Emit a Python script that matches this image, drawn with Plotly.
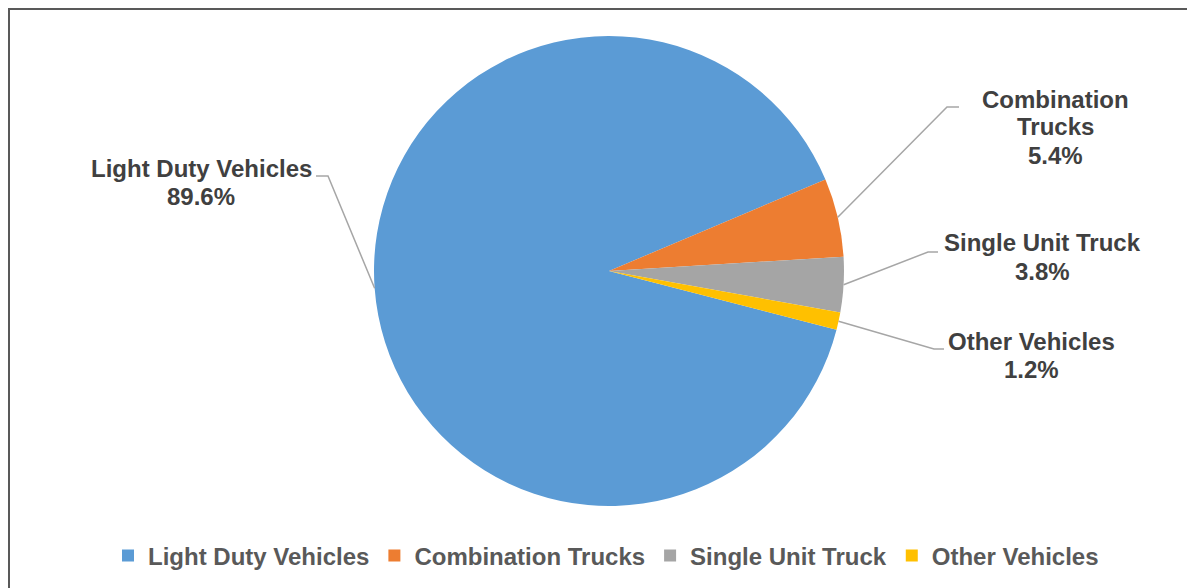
import math
import plotly.graph_objects as go

# ---- data ----
categories = ["Light Duty Vehicles", "Combination Trucks", "Single Unit Truck", "Other Vehicles"]
shares = [89.6, 5.4, 3.8, 1.2]
label_lines = [["Light Duty Vehicles", "89.6%"],
               ["Combination", "Trucks", "5.4%"],
               ["Single Unit Truck", "3.8%"],
               ["Other Vehicles", "1.2%"]]
colors = ["#5B9BD5", "#ED7D31", "#A5A5A5", "#FFC000"]

W, H = 1195, 588
OFF = 8                              # page body margin
ROT = 104.5
CX, CY, R = 609, 271, 235            # pie placement in page pixels
FONT = "Liberation Sans, Arial, sans-serif"
TXT = "#404040"
LINE_H = 28

def px(x):
    return (x - OFF) / W

def py(y):
    return 1 - (y - OFF) / H

fig = go.Figure()
fig.add_trace(go.Pie(
    labels=categories, values=shares, sort=False, direction="clockwise",
    rotation=ROT, marker=dict(colors=colors, line=dict(width=0)),
    textinfo="none", hoverinfo="label+percent",
    domain=dict(x=[px(CX - R), px(CX + R)], y=[py(CY + R), py(CY - R)]),
))

# label layout: (text centre x, first line centre y, elbow x, elbow y, line end x)
label_layout = [
    (201, 168, 328, 176, 316),
    (1055, 99, 947, 107, 959),
    (1042, 243, 928, 252, 938),
    (1031, 341, 934, 349, 944),
]

total = sum(shares)
start = ROT
shapes = []
annotations = []
for i, v in enumerate(shares):
    span = 360 * v / total
    mid = math.radians(start + span / 2)
    start += span
    ex = CX + R * math.sin(mid)
    ey = CY - R * math.cos(mid)
    tx, ty, bx, by, hx = label_layout[i]
    path = f"M {px(ex)} {py(ey)} L {px(bx)} {py(by)} L {px(hx)} {py(by)}"
    shapes.append(dict(type="path", xref="paper", yref="paper", path=path,
                       line=dict(color="#A6A6A6", width=1.5)))
    for j, line in enumerate(label_lines[i]):
        annotations.append(dict(text=line, x=px(tx), y=py(ty + j * LINE_H), xref="paper", yref="paper",
                                xanchor="center", yanchor="middle", align="center", showarrow=False,
                                font=dict(family=FONT, size=24, color=TXT, weight="bold")))

# chart frame (top and left edges visible)
shapes.append(dict(type="rect", xref="paper", yref="paper",
                   x0=px(9), x1=px(W + 20), y0=py(H + 20), y1=py(9),
                   line=dict(color="#595959", width=2), fillcolor="rgba(0,0,0,0)"))

fig.update_layout(
    width=W, height=H,
    margin=dict(l=0, r=0, t=0, b=0),
    paper_bgcolor="white", plot_bgcolor="white",
    shapes=shapes, annotations=annotations,
    showlegend=True,
    legend=dict(orientation="h", x=px(606), xanchor="center", y=py(556), yanchor="middle",
                font=dict(family=FONT, size=24, color="#595959", weight="bold"),
                itemwidth=30, tracegroupgap=0),
    font=dict(family=FONT),
)
fig.write_html("out.html")
